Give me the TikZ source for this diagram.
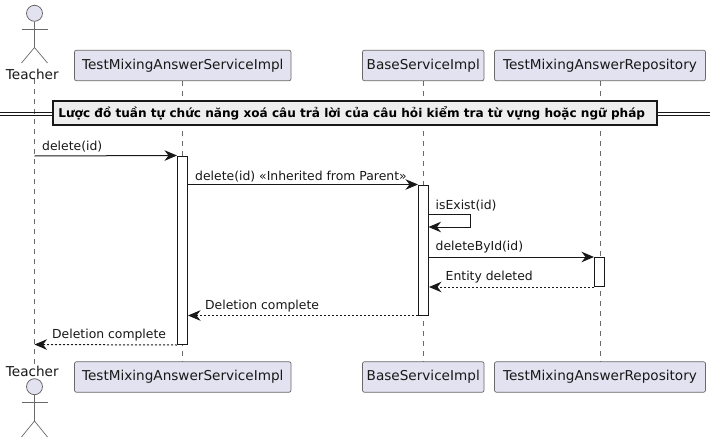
\documentclass[tikz,border=0pt]{standalone}
\usepackage{fontspec}
\setmainfont{DejaVu Sans}
\usetikzlibrary{arrows.meta,calc}
\definecolor{ink}{HTML}{181818}
\definecolor{partfill}{HTML}{E2E2F0}
\definecolor{lifegrey}{HTML}{6A6A6A}
\definecolor{divfill}{HTML}{EEEEEE}
\newcommand{\lbl}{\fontsize{12.4}{14}\selectfont}
\newcommand{\partlbl}{\fontsize{13.6}{16}\selectfont}
\tikzset{
  x=1pt,y=-1pt,
  part/.style={draw=ink!65,line width=0.7pt,fill=partfill,rounded corners=2pt,minimum height=30.5pt,inner sep=0pt,text=ink,font=\partlbl,anchor=center},
  actorhead/.style={circle,draw=ink!70,line width=0.7pt,fill=partfill,minimum size=16pt,inner sep=0pt},
  actorlimb/.style={draw=ink!65,line width=0.7pt},
  actorname/.style={inner sep=0pt,text=ink,font=\partlbl},
  life/.style={draw=lifegrey,line width=0.7pt,dash pattern=on 5pt off 5pt},
  bar/.style={draw=ink,line width=1pt,fill=white,minimum width=10pt,inner sep=0pt},
  msg/.style={draw=ink,line width=1pt,-{Stealth[length=12.5pt,width=10.5pt,inset=4pt,color=ink]}},
  ret/.style={msg,dash pattern=on 2pt off 2pt},
  msglbl/.style={inner sep=0pt,anchor=west,text=ink,font=\lbl},
  divbox/.style={draw=ink,line width=1.6pt,fill=divfill,inner sep=0pt,minimum width=604pt,minimum height=23.5pt,text=black,font=\fontsize{12.09}{14}\selectfont\bfseries},
  divline/.style={draw=ink,line width=0.8pt},
}
\begin{document}
\begin{tikzpicture}
\path[use as bounding box,fill=white] (0,0) rectangle (716,442);
% participants, top
\node[actorhead] (th) at (34.5,13.3) {};
\node[actorname] (tn) at (32.3,74) {Teacher};
\node[part,minimum width=216.5pt] (s1) at (182.75,65.5) {TestMixingAnswerServiceImpl};
\node[part,minimum width=121.5pt] (b1) at (423.25,65.5) {BaseServiceImpl};
\node[part,minimum width=211pt] (r1) at (600,65.5) {TestMixingAnswerRepository};
% participants, bottom
\node[actorname] (tm) at (32.3,371) {Teacher};
\node[actorhead] (tf) at (34.5,386.7) {};
\node[part,minimum width=216.5pt] (s2) at (182.75,377) {TestMixingAnswerServiceImpl};
\node[part,minimum width=121.5pt] (b2) at (423.25,377) {BaseServiceImpl};
\node[part,minimum width=211pt] (r2) at (600,377) {TestMixingAnswerRepository};
% actor limbs
\coordinate (ta1) at (34.5,47.5);
\draw[actorlimb] (th.south) -- (ta1);
\draw[actorlimb] (21.5,29) -- (47.5,29);
\draw[actorlimb] (21.5,63) -- (ta1) -- (47.5,63);
\coordinate (tb1) at (34.5,421);
\draw[actorlimb] (tf.south) -- (tb1);
\draw[actorlimb] (21.5,402.7) -- (47.5,402.7);
\draw[actorlimb] (21.5,437) -- (tb1) -- (47.5,437);
% lifelines
\draw[life] (tn.south -| th.south) -- (tm.north -| th.south);
\draw[life] (s1.south) -- (s2.north);
\draw[life] (b1.south) -- (b2.north);
\draw[life] (r1.south) -- (r2.north);
% divider
\coordinate (dl) at (0,114);
\coordinate (dr) at (710,114);
\node[divbox] (dv) at (355.25,113) {\kern-7pt Lược đồ tuần tự chức năng xoá câu trả lời của câu hỏi kiểm tra từ vựng hoặc ngữ pháp};
\draw[divline] (dl |- 0,112.5) -- (dv.west |- 0,112.5);
\draw[divline] (dl |- 0,115.5) -- (dv.west |- 0,115.5);
\draw[divline] (dv.east |- 0,112.5) -- (dr |- 0,112.5);
\draw[divline] (dv.east |- 0,115.5) -- (dr |- 0,115.5);
% activations
\node[bar,minimum height=188.5pt] (a1) at (182.5,250.25) {};
\node[bar,minimum height=130pt] (a2) at (423.5,250) {};
\node[bar,minimum height=29pt] (a3) at (599.5,272) {};
% messages
\coordinate (m1s) at (34.5,156);
\draw[msg] (m1s) -- (a1.north west);
\node[msglbl] (l1) at (42,146.5) {delete(id)};
\draw[msg] (a1.east |- a2.north) -- (a2.north west);
\node[msglbl] (l2) at (195,176.5) {delete(id) «Inherited from Parent»};
\coordinate (se1) at (428.5,214.5);
\coordinate (se2) at (470.5,214.5);
\coordinate (se3) at (470.5,227);
\coordinate (se4) at (428.5,227);
\draw[msg] (se1) -- (se2) -- (se3) -- (se4);
\node[msglbl] (l3) at (435.5,205.5) {isExist(id)};
\draw[msg] (a2.east |- a3.north) -- (a3.north west);
\node[msglbl] (l4) at (435.5,247.5) {deleteById(id)};
\draw[ret] (a3.south west) -- (a2.east |- a3.south);
\node[msglbl] (l5) at (445.5,277.5) {Entity deleted};
\draw[ret] (a2.south west) -- (a1.east |- a2.south);
\node[msglbl] (l6) at (205,306.5) {Deletion complete};
\coordinate (m6e) at (34.5,344.5);
\draw[ret] (a1.south west) -- (m6e);
\node[msglbl] (l7) at (52,335.5) {Deletion complete};
\end{tikzpicture}
\end{document}
